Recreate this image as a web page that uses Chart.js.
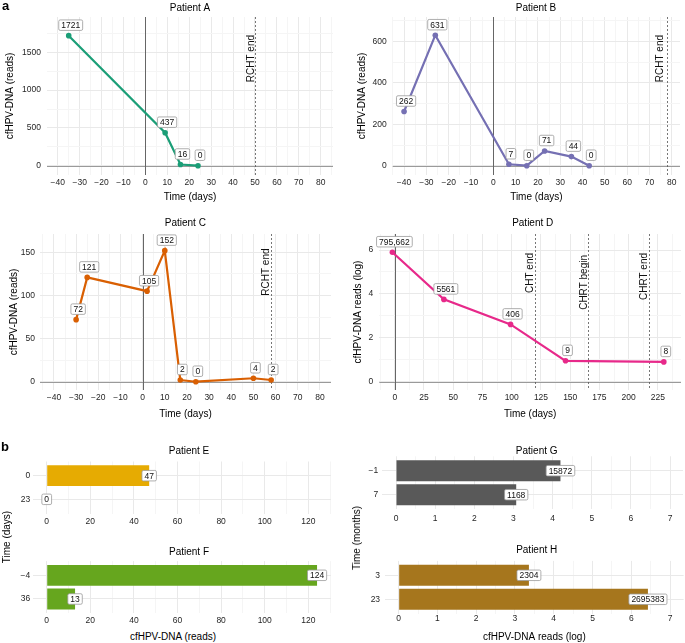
<!DOCTYPE html>
<html>
<head>
<meta charset="utf-8">
<script src="https://cdn.jsdelivr.net/npm/chart.js@4/dist/chart.umd.min.js"></script>
<style>
  html, body { margin: 0; padding: 0; background: #fff; }
  #fig { position: relative; width: 685px; height: 643px; overflow: hidden; font-family: 'Liberation Sans', Arial, sans-serif; }
  #fig canvas { position: absolute; }
  .txt { position: absolute; white-space: nowrap; color: #000; font-size: 10px; line-height: 1; transform: translate(-50%, -50%); }
  .rot { transform: translate(-50%, -50%) rotate(-90deg); }
  .tag { position: absolute; font-weight: bold; font-size: 13px; line-height: 1; color: #000; }
</style>
</head>
<body>
<div id="fig">
  <canvas id="cA" width="338" height="204" style="left:0;top:0"></canvas>
  <canvas id="cB" width="343" height="204" style="left:342px;top:0"></canvas>
  <canvas id="cC" width="338" height="206" style="left:0;top:215px"></canvas>
  <canvas id="cD" width="343" height="206" style="left:342px;top:215px"></canvas>
  <canvas id="cE" width="338" height="90" style="left:0;top:440px"></canvas>
  <canvas id="cF" width="338" height="90" style="left:0;top:540px"></canvas>
  <canvas id="cG" width="343" height="90" style="left:342px;top:440px"></canvas>
  <canvas id="cH" width="343" height="103" style="left:342px;top:540px"></canvas>
  <div class="tag" style="left:2px;top:-1px">a</div>
  <div class="tag" style="left:1px;top:440px">b</div>
  <div class="txt rot" style="left:7px;top:537px">Time (days)</div>
  <div class="txt rot" style="left:357px;top:538px">Time (months)</div>
  <div class="txt" style="left:173px;top:637px">cfHPV-DNA (reads)</div>
</div>
<script>
// panel a - cfHPV-DNA reads over time (days from therapy start)
const daysA = [-35, 9, 16, 24];
const readsA = [1721, 437, 16, 0];
const daysB = [-40, -26, 7, 15, 23, 35, 43];
const readsB = [262, 631, 7, 0, 71, 44, 0];
const daysC = [-30, -25, 2, 10, 17, 24, 50, 58];
const readsC = [72, 121, 105, 152, 2, 0, 4, 2];
const daysD = [-2, 42, 99, 146, 230];
const logReadsD = [5.9, 3.75, 2.61, 0.95, 0.9];
const labelsD = ["795,662", "5561", "406", "9", "8"];

// therapy events (day, text)
const eventsA = [{ day: 50, text: "RCHT end" }];
const eventsB = [{ day: 78, text: "RCHT end" }];
const eventsC = [{ day: 58, text: "RCHT end" }];
const eventsD = [{ day: 120, text: "CHT end" }, { day: 165, text: "CHRT begin" }, { day: 217, text: "CHRT end" }];

// panel b - two samples per patient
const timesE = ["0", "23"];
const readsE = [47, 0];
const timesF = ["\u22124", "36"];
const readsF = [124, 13];
const timesG = ["\u22121", "7"];
const logReadsG = [4.2, 3.07];
const labelsG = ["15872", "1168"];
const timesH = ["3", "23"];
const logReadsH = [3.36, 6.43];
const labelsH = ["2304", "2695383"];

// tick labels
const dayTicks = [-40, -30, -20, -10, 0, 10, 20, 30, 40, 50, 60, 70, 80];
const dayTicksD = [0, 25, 50, 75, 100, 125, 150, 175, 200, 225];
const readTicksA = [0, 500, 1000, 1500];
const readTicksB = [0, 200, 400, 600];
const readTicksC = [0, 50, 100, 150];
const logTicksD = [0, 2, 4, 6];
const readTicksEF = [0, 20, 40, 60, 80, 100, 120];
const logTicksGH = [0, 1, 2, 3, 4, 5, 6, 7];

Chart.defaults.font.family = "'Liberation Sans', Arial, sans-serif";
Chart.defaults.color = "#222";

const FONT = "'Liberation Sans', Arial, sans-serif";
const TICK_COLOR = "#262626";
const decorCfg = {};

const fmt = (v) => (v < 0 ? "\u2212" + Math.abs(v) : String(v));

function strokeLine(ctx, x1, y1, x2, y2) {
  ctx.beginPath();
  ctx.moveTo(x1, y1);
  ctx.lineTo(x2, y2);
  ctx.stroke();
}

function drawLabel(ctx, text, cx, cy) {
  ctx.font = "8.5px " + FONT;
  const w = ctx.measureText(text).width + 5;
  const h = 10.5;
  ctx.beginPath();
  if (ctx.roundRect) ctx.roundRect(cx - w / 2, cy - h / 2, w, h, 1.5);
  else ctx.rect(cx - w / 2, cy - h / 2, w, h);
  ctx.fillStyle = "#fff";
  ctx.fill();
  ctx.strokeStyle = "#9a9a9a";
  ctx.lineWidth = 0.8;
  ctx.stroke();
  ctx.fillStyle = "#111";
  ctx.textAlign = "center";
  ctx.textBaseline = "middle";
  ctx.fillText(text, cx, cy + 0.5);
}

// zero lines, therapy markers, value labels and panel titles
const decor = {
  id: "decor",
  beforeDatasetsDraw(chart) {
    const d = decorCfg[chart.canvas.id];
    if (!d) return;
    const { ctx, chartArea: a, scales } = chart;
    ctx.save();
    if (d.zeroLines) {
      const py = Math.round(scales.y.getPixelForValue(0)) + 0.5;
      ctx.strokeStyle = "#9a9a9a";
      ctx.lineWidth = 1;
      strokeLine(ctx, a.left, py, a.right, py);
      const px = Math.round(scales.x.getPixelForValue(0)) + 0.5;
      ctx.strokeStyle = "#666";
      strokeLine(ctx, px, a.top, px, a.bottom);
    }
    (d.events || []).forEach((ev, i) => {
      const px = Math.round(scales.x.getPixelForValue(ev.day)) + 0.5;
      ctx.strokeStyle = "#555";
      ctx.lineWidth = 0.8;
      ctx.setLineDash([2, 2]);
      strokeLine(ctx, px, a.top, px, a.bottom);
      ctx.setLineDash([]);
      ctx.save();
      ctx.translate(px - d.evDx[i], a.top + d.evDy[i]);
      ctx.rotate(-Math.PI / 2);
      ctx.font = "10px " + FONT;
      ctx.fillStyle = "#111";
      ctx.textAlign = "right";
      ctx.textBaseline = "middle";
      ctx.fillText(ev.text, 0, 0);
      ctx.restore();
    });
    ctx.restore();
  },
  afterDatasetsDraw(chart) {
    const d = decorCfg[chart.canvas.id];
    if (!d) return;
    const ctx = chart.ctx;
    const pts = chart.getDatasetMeta(0).data;
    ctx.save();
    pts.forEach((el, i) => {
      if (d.bars) drawLabel(ctx, d.labels[i], el.x, el.y);
      else drawLabel(ctx, d.labels[i], el.x + 2, el.y - 10.5);
    });
    ctx.restore();
  },
  afterDraw(chart) {
    const d = decorCfg[chart.canvas.id];
    if (!d || !d.title) return;
    const ctx = chart.ctx;
    ctx.save();
    ctx.font = "10px " + FONT;
    ctx.fillStyle = "#000";
    ctx.textAlign = "center";
    ctx.textBaseline = "middle";
    ctx.fillText(d.title, d.tx, d.ty);
    ctx.restore();
  },
};
Chart.register(decor);

function axis(o) {
  const step = o.major[1] - o.major[0];
  const minor = [o.major[0] - step / 2]
    .concat(o.major.map((v) => v + step / 2))
    .filter((v) => v > o.min && v < o.max);
  const all = o.major.concat(minor).sort((a, b) => a - b);
  return {
    type: "linear",
    min: o.min,
    max: o.max,
    afterBuildTicks: (s) => {
      s.ticks = all.map((v) => ({ value: v }));
    },
    afterFit: (s) => {
      if (o.horizontal) s.height = o.size;
      else s.width = o.size;
    },
    ticks: {
      autoSkip: false,
      maxRotation: 0,
      minRotation: 0,
      padding: o.tickPad,
      font: { size: 8.5 },
      color: TICK_COLOR,
      callback: (v) => (o.major.includes(v) ? fmt(v) : ""),
    },
    grid: {
      drawTicks: false,
      lineWidth: 1,
      color: (c) => (c.tick && o.major.includes(c.tick.value) ? "#e9e9e9" : "#f5f5f5"),
    },
    border: { display: false },
    title: o.title
      ? { display: true, text: o.title, font: { size: 10 }, color: "#000", padding: o.titlePad }
      : { display: false },
  };
}

function lineChart(id, c) {
  decorCfg[id] = c.decor;
  return new Chart(document.getElementById(id), {
    type: "line",
    data: {
      datasets: [
        {
          data: c.days.map((d, i) => ({ x: d, y: c.values[i] })),
          borderColor: c.color,
          backgroundColor: c.color,
          borderWidth: 2.2,
          pointRadius: 2.8,
          pointBorderWidth: 0,
          tension: 0,
        },
      ],
    },
    options: {
      responsive: false,
      animation: false,
      events: [],
      layout: { padding: c.pad },
      plugins: { legend: { display: false }, tooltip: { enabled: false } },
      scales: { x: axis(c.x), y: axis(c.y) },
    },
  });
}

function barChart(id, c) {
  decorCfg[id] = c.decor;
  return new Chart(document.getElementById(id), {
    type: "bar",
    data: {
      labels: c.times,
      datasets: [{ data: c.values, backgroundColor: c.color, barPercentage: 0.88, categoryPercentage: 1 }],
    },
    options: {
      indexAxis: "y",
      responsive: false,
      animation: false,
      events: [],
      layout: { padding: c.pad },
      plugins: { legend: { display: false }, tooltip: { enabled: false } },
      scales: {
        x: axis(c.x),
        y: {
          type: "category",
          offset: true,
          // ggplot-like 0.6 category expansion
          afterBuildTicks: (s) => {
            s._startValue = -0.6;
            s._valueRange = 2.2;
          },
          afterFit: (s) => {
            s.width = c.yWidth;
          },
          ticks: { padding: c.yPad, font: { size: 8.5 }, color: TICK_COLOR },
          grid: { offset: false, drawTicks: false, color: "#e9e9e9" },
          border: { display: false },
        },
      },
    },
  });
}

// ---- panel a ----
lineChart("cA", {
  days: daysA, values: readsA, color: "#1b9e77",
  pad: { top: 17, right: 5, bottom: 0, left: 0 },
  x: { major: dayTicks, min: -44.9, max: 85.6, horizontal: true, size: 29, tickPad: 3, title: "Time (days)", titlePad: { top: 0, bottom: 1 } },
  y: { major: readTicksA, min: -123, max: 1968, size: 47, tickPad: 6, title: "cfHPV-DNA (reads)", titlePad: { top: 4, bottom: 0 } },
  decor: { title: "Patient A", tx: 190, ty: 8, zeroLines: true, events: eventsA, evDx: [4], evDy: [18], labels: readsA.map(String) },
});

lineChart("cB", {
  days: daysB, values: readsB, color: "#7570b3",
  pad: { top: 17, right: 5, bottom: 0, left: 0 },
  x: { major: dayTicks, min: -45.1, max: 83.7, horizontal: true, size: 29, tickPad: 3, title: "Time (days)", titlePad: { top: 0, bottom: 1 } },
  y: { major: readTicksB, min: -45, max: 719, size: 50.7, tickPad: 6, title: "cfHPV-DNA (reads)", titlePad: { top: 14, bottom: 0 } },
  decor: { title: "Patient B", tx: 194, ty: 8, zeroLines: true, events: eventsB, evDx: [7.5], evDy: [18], labels: readsB.map(String) },
});

lineChart("cC", {
  days: daysC, values: readsC, color: "#d95f02",
  pad: { top: 19, right: 7, bottom: 0, left: 0 },
  x: { major: dayTicks, min: -46.3, max: 85, horizontal: true, size: 31, tickPad: 3, title: "Time (days)", titlePad: { top: 0, bottom: 1 } },
  y: { major: readTicksC, min: -9.6, max: 171.3, size: 40, tickPad: 5, title: "cfHPV-DNA (reads)", titlePad: { top: 8, bottom: 0 } },
  decor: { title: "Patient C", tx: 185.3, ty: 8.3, zeroLines: true, events: eventsC, evDx: [5], evDy: [14.5], labels: readsC.map(String) },
});

lineChart("cD", {
  days: daysD, values: logReadsD, color: "#e7298a",
  pad: { top: 19, right: 0, bottom: 0, left: 0 },
  x: { major: dayTicksD, min: -13.2, max: 244.7, horizontal: true, size: 31, tickPad: 3, title: "Time (days)", titlePad: { top: 0, bottom: 1 } },
  y: { major: logTicksD, min: -0.38, max: 6.73, size: 37.3, tickPad: 6, title: "cfHPV-DNA reads (log)", titlePad: { top: 10, bottom: 0 } },
  decor: { title: "Patient D", tx: 190.7, ty: 8.3, zeroLines: true, events: eventsD, evDx: [5, 4.5, 5.5], evDy: [19, 21, 19], labels: labelsD },
});

// ---- panel b ----
barChart("cE", {
  times: timesE, values: readsE, color: "#e6ab02",
  pad: { top: 21.5, right: 7, bottom: 0, left: 0 }, yWidth: 33.2, yPad: 3,
  x: { major: readTicksEF, min: -6.2, max: 130.4, horizontal: true, size: 16.5, tickPad: 3 },
  decor: { title: "Patient E", tx: 189, ty: 11.7, bars: true, labels: readsE.map(String) },
});

barChart("cF", {
  times: timesF, values: readsF, color: "#66a61e",
  pad: { top: 21.1, right: 7, bottom: 0, left: 0 }, yWidth: 33.2, yPad: 3,
  x: { major: readTicksEF, min: -6.2, max: 130.4, horizontal: true, size: 16.8, tickPad: 2 },
  decor: { title: "Patient F", tx: 189, ty: 12.7, bars: true, labels: readsF.map(String) },
});

barChart("cG", {
  times: timesG, values: logReadsG, color: "#595959",
  pad: { top: 16.3, right: 2, bottom: 0, left: 0 }, yWidth: 40.3, yPad: 4,
  x: { major: logTicksGH, min: -0.35, max: 7.33, horizontal: true, size: 20.9, tickPad: 4 },
  decor: { title: "Patient G", tx: 194.7, ty: 11.7, bars: true, labels: labelsG },
});

barChart("cH", {
  times: timesH, values: logReadsH, color: "#a6761d",
  pad: { top: 20.9, right: 1.4, bottom: 0, left: 0 }, yWidth: 43.1, yPad: 5,
  x: { major: logTicksGH, min: -0.35, max: 7.35, horizontal: true, size: 29.3, tickPad: 0, title: "cfHPV-DNA reads (log)", titlePad: { top: 0, bottom: 0 } },
  decor: { title: "Patient H", tx: 194.7, ty: 10, bars: true, labels: labelsH },
});
</script>
</body>
</html>
